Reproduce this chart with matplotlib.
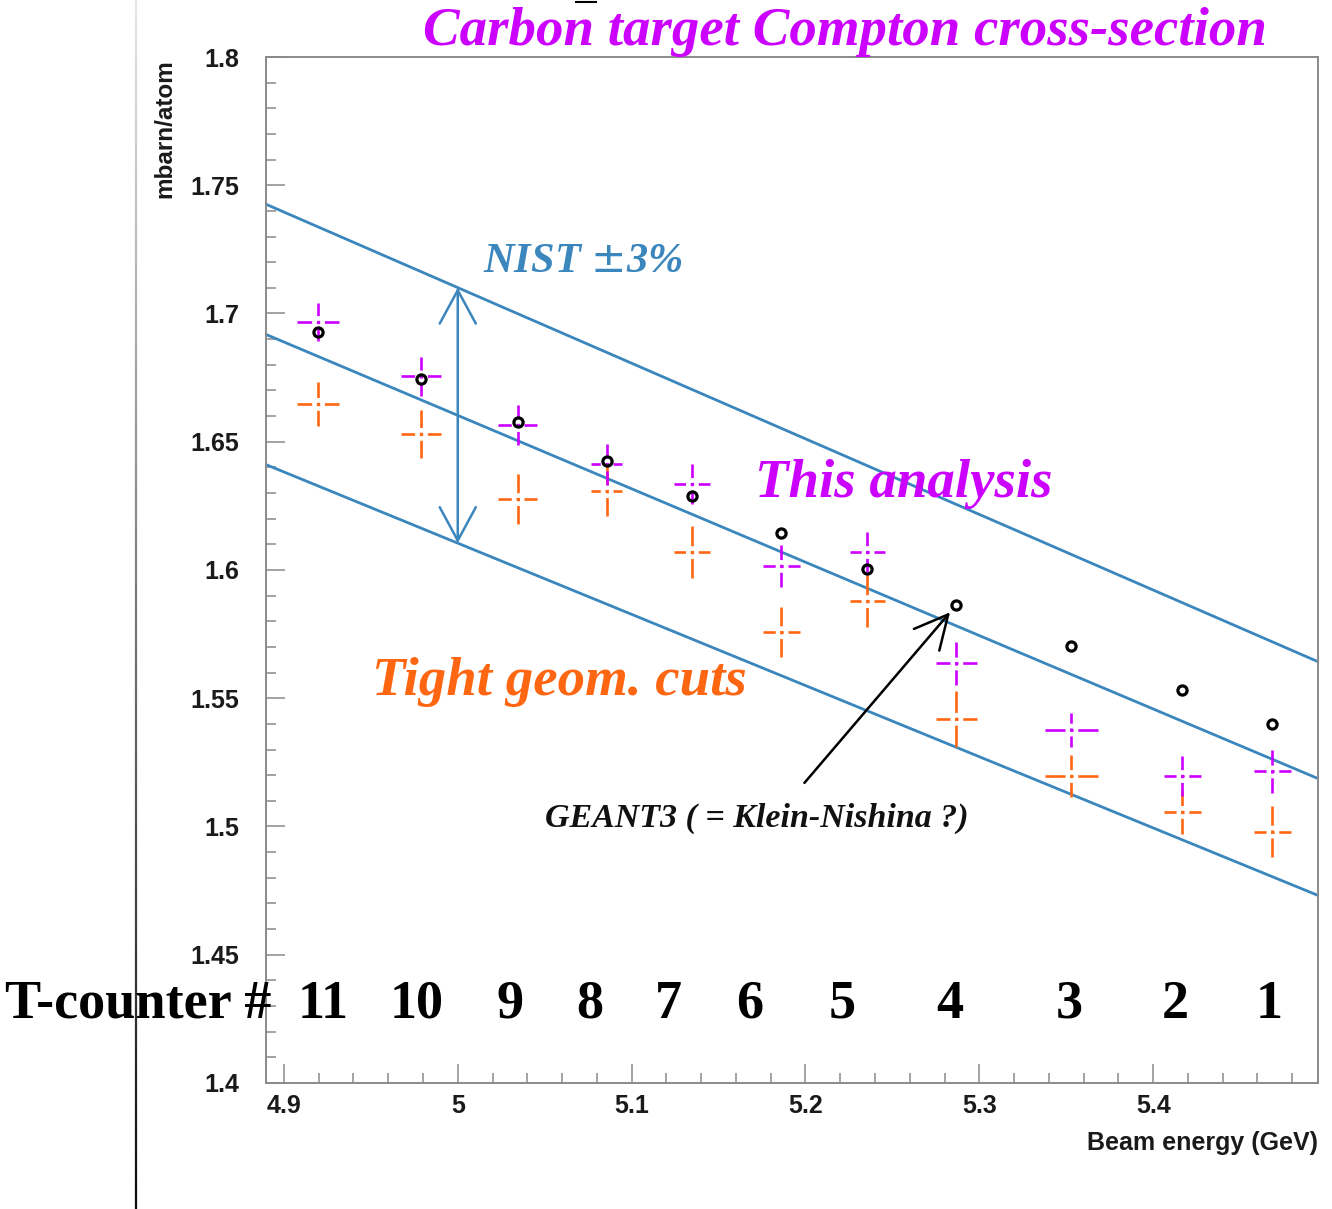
import matplotlib
matplotlib.use("Agg")
import matplotlib.pyplot as plt
import numpy as np
from matplotlib.collections import LineCollection
from matplotlib.lines import Line2D
from matplotlib.ticker import MultipleLocator, FuncFormatter

plt.rcParams['lines.scale_dashes'] = False

# tagged photon beam energy per T-counter (GeV) and half bin width
energy = [4.9195, 4.9787, 5.0345, 5.0856, 5.1345, 5.1862, 5.2356, 5.2868, 5.3529, 5.4167, 5.4684]
energy_hw = [0.0121, 0.0115, 0.0113, 0.0090, 0.0103, 0.0107, 0.0101, 0.0117, 0.0152, 0.0106, 0.0106]
t_counter = [11, 10, 9, 8, 7, 6, 5, 4, 3, 2, 1]

# cross-sections in mbarn/atom
geant3 = [1.6928, 1.6745, 1.6577, 1.6425, 1.6289, 1.6144, 1.6004, 1.5864, 1.5704, 1.5532, 1.5400]
this_analysis = [1.6967, 1.6756, 1.6565, 1.6413, 1.6335, 1.6016, 1.6070, 1.5637, 1.5376, 1.5197, 1.5216]
this_err = [0.0074, 0.0076, 0.0078, 0.0080, 0.0078, 0.0082, 0.0078, 0.0084, 0.0068, 0.0078, 0.0084]
tight_cuts = [1.6647, 1.6530, 1.6277, 1.6308, 1.6070, 1.5758, 1.5879, 1.5419, 1.5197, 1.5057, 1.4979]
tight_err = [0.0086, 0.0094, 0.0097, 0.0097, 0.0101, 0.0097, 0.0101, 0.0110, 0.0082, 0.0086, 0.0099]

# NIST prediction (linear over this range) and its +-3% band
nist_e = [4.85, 5.55]
nist_sigma = [1.7032, 1.5029]
nist_band = 0.03

# where the counter numbers sit along the energy axis
counter_label_e = [4.9224, 4.9764, 5.0299, 5.0759, 5.1213, 5.1678, 5.2213, 5.2828, 5.3517, 5.4126, 5.4667]

MAGENTA = '#cc00ff'
ORANGE = '#ff6611'
BLUE = '#3a86bd'
GREY = '#8a8a8a'

fig = plt.figure(figsize=(13.32, 12.09), dpi=100)
W, H = 1332, 1209
ax = fig.add_axes([266 / W, 1 - 1083 / H, (1318 - 266) / W, (1083 - 57) / H])
ax.set_xlim(4.8897, 5.4948)
ax.set_ylim(1.4, 1.8)

for s in ax.spines.values():
    s.set_color(GREY)
    s.set_linewidth(1.4)
ax.xaxis.set_major_locator(MultipleLocator(0.1))
ax.xaxis.set_minor_locator(MultipleLocator(0.02))
ax.yaxis.set_major_locator(MultipleLocator(0.05))
ax.yaxis.set_minor_locator(MultipleLocator(0.01))
fmt = FuncFormatter(lambda v, _: f'{v:g}')
ax.xaxis.set_major_formatter(fmt)
ax.yaxis.set_major_formatter(fmt)
ax.tick_params(which='both', direction='in', color=GREY, width=1.1,
               top=False, right=False)
ax.tick_params(which='major', length=14)
ax.tick_params(which='minor', length=7)
ax.tick_params(axis='y', which='major', pad=19)
ax.tick_params(axis='x', which='major', pad=8)
for lab in ax.get_xticklabels() + ax.get_yticklabels():
    lab.set_fontfamily('Liberation Sans')
    lab.set_fontweight('bold')
    lab.set_fontsize(18)
    lab.set_color('#1a1a1a')

# NIST central value and the +-3% lines
nist_sigma = np.array(nist_sigma)
for f in (1 + nist_band, 1.0, 1 - nist_band):
    ax.plot(nist_e, nist_sigma * f, color=BLUE, lw=2.0, zorder=2)


def dash_bars(container):
    # each error bar: dash, gap, centre dot, gap, dash
    for lc in container.lines[2]:
        styles = []
        for seg in lc.get_segments():
            p = ax.transData.transform(seg)
            L = np.hypot(*(p[1] - p[0])) * 72 / fig.dpi
            gap, dot = 3.4, 2.4
            arm = max((L - 2 * gap - dot) / 2, 0.5)
            styles.append((0, (arm, gap, dot, gap, arm + 30, 1)))
        lc.set_linestyles(styles)
        lc.set_capstyle('butt')


eb_tight = ax.errorbar(energy, tight_cuts, yerr=tight_err, xerr=energy_hw, fmt='none',
                       ecolor=ORANGE, elinewidth=1.9, capsize=0, zorder=3)
dash_bars(eb_tight)
eb_this = ax.errorbar(energy, this_analysis, yerr=this_err, xerr=energy_hw, fmt='none',
                      ecolor=MAGENTA, elinewidth=1.9, capsize=0, zorder=4)
dash_bars(eb_this)

ax.plot(energy, geant3, 'o', ms=6.6, mfc='none', mec='black', mew=2.3, zorder=5)

# +-3% arrow at 5 GeV
e_arrow = 5.0
s0 = np.interp(e_arrow, nist_e, nist_sigma)
ax.annotate('', xy=(e_arrow, s0 * (1 + nist_band)), xytext=(e_arrow, s0 * (1 - nist_band)),
            arrowprops=dict(arrowstyle='<->,head_length=24,head_width=13', mutation_scale=1,
                            shrinkA=0, shrinkB=0, color=BLUE, lw=1.8), zorder=4)

# GEANT3 pointer to T-counter 4
ax.annotate('', xy=(energy[7], geant3[7]), xytext=(5.1994, 1.5170),
            arrowprops=dict(arrowstyle='->,head_length=24,head_width=12', mutation_scale=1,
                            shrinkA=0, shrinkB=7, color='black', lw=1.8), zorder=6)

serif_bi = dict(family='Liberation Serif', weight='bold', style='italic')
ax.text(5.0144, 1.7201, 'NIST $\\pm$3%', color=BLUE, fontsize=30.5, va='center', ha='left',
        **serif_bi)
ax.text(5.1707, 1.6335, 'This analysis', color=MAGENTA, fontsize=39.5, va='center', ha='left',
        **serif_bi)
ax.text(4.9506, 1.5563, 'Tight geom. cuts', color=ORANGE, fontsize=39.5, va='center',
        ha='left', **serif_bi)
ax.text(5.0500, 1.5033, 'GEANT3 ( = Klein-Nishina ?)', color='#111111', fontsize=24.5,
        va='center', ha='left', **serif_bi)

fig.text(845 / W, 1 - 32 / H, 'Carbon target Compton cross-section', color=MAGENTA,
         fontsize=39.5, ha='center', va='center', **serif_bi)

# axis titles, ROOT style at the ends of the axes
fig.text(165 / W, 1 - 129 / H, 'mbarn/atom', rotation=90, ha='center', va='center',
         family='Liberation Sans', weight='bold', fontsize=17.5, color='#1a1a1a')
fig.text(1318 / W, 1 - 1143 / H, 'Beam energy (GeV)', ha='right', va='center',
         family='Liberation Sans', weight='bold', fontsize=18, color='#1a1a1a')

# T-counter numbering across the bottom of the plot
fig.text(5 / W, 1 - 1018 / H, 'T-counter #', ha='left', va='baseline',
         family='Liberation Serif', weight='bold', fontsize=39, color='black')
y_counter = 1 - (1018 - 57) / (1083 - 57)
for e, n in zip(counter_label_e, t_counter):
    ax.text(e, y_counter, str(n), transform=ax.get_xaxis_transform(), clip_on=False,
            ha='center', va='baseline', family='Liberation Serif', weight='bold',
            fontsize=39, color='black')

# slide border on the left, fading from light grey at the top to black
yy = np.linspace(1, 0, 61)
segs = [[(136 / W, yy[i]), (136 / W, yy[i + 1])] for i in range(60)]
greys = np.linspace(0.9, 0.05, 60)
fig.add_artist(LineCollection(segs, colors=[(g, g, g) for g in greys], linewidths=1.6,
                              transform=fig.transFigure))
fig.add_artist(Line2D([576 / W, 596 / W], [1 - 1.5 / H, 1 - 1.5 / H], color='black', lw=1.5,
                      transform=fig.transFigure))

fig.savefig('out.png', dpi=100, facecolor='white')
